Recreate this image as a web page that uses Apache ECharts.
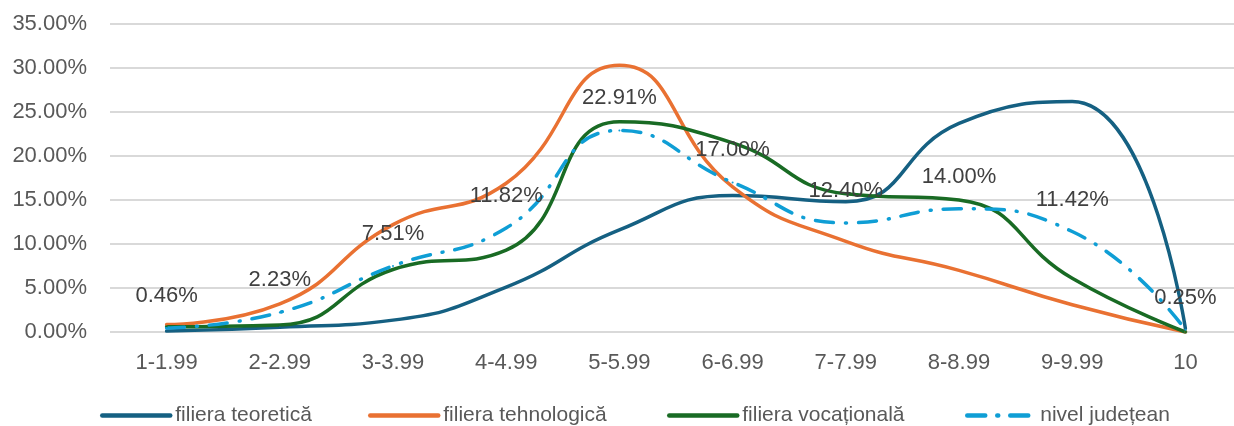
<!DOCTYPE html>
<html>
<head>
<meta charset="utf-8">
<script src="https://cdn.jsdelivr.net/npm/echarts@6/dist/echarts.min.js"></script>
<style>
  html, body { margin: 0; padding: 0; background: #fff; }
  #chart { width: 1234px; height: 426px; }
</style>
</head>
<body>
<div id="chart"></div>
<script>
// categorii de note
var categories = ['1-1.99', '2-2.99', '3-3.99', '4-4.99', '5-5.99', '6-6.99', '7-7.99', '8-8.99', '9-9.99', '10'];

// procente
var teoretica   = [0.1, 0.55, 1.35, 5.1, 11.6, 15.5, 14.8, 23.7, 26.2, 0.4];
var tehnologica = [0.84, 3.2, 12.2, 16.9, 30.3, 16.5, 10.3, 7.0, 3.1, 0];
var vocationala = [0.6, 0.8, 7.1, 9.3, 23.9, 21.5, 15.7, 15.0, 6.1, 0];
var judetean    = [0.46, 2.23, 7.51, 11.82, 22.91, 17.00, 12.40, 14.00, 11.42, 0.25];

var names = ['filiera teoretică', 'filiera tehnologică', 'filiera vocațională', 'nivel județean'];
var colors = ['#156082', '#E97132', '#196B24', '#0F9ED5'];
var legendLeft = [95, 363, 662, 960];

var font = 'Liberation Sans';

var myChart = echarts.init(document.getElementById('chart'));

function lineSeries(i, data, extra) {
  var s = {
    name: names[i],
    type: 'line',
    data: data,
    smooth: 0.5,
    symbol: 'circle',
    symbolSize: 2,
    showSymbol: true,
    lineStyle: { width: 3.5, color: colors[i], cap: 'round' },
    itemStyle: { color: colors[i] }
  };
  return Object.assign(s, extra || {});
}

var option = {
  animation: false,
  color: colors,
  grid: { left: 110, right: -8, top: 24, bottom: 94, outerBoundsMode: 'none' },
  legend: names.map(function (n, i) {
    return {
      data: [n],
      left: legendLeft[i],
      top: 400,
      itemWidth: 68,
      itemHeight: 18,
      itemGap: 0,
      itemStyle: { opacity: 0 },
      lineStyle: { width: 4.5 },
      textStyle: { fontFamily: font, fontSize: 21, color: '#595959' }
    };
  }),
  xAxis: {
    type: 'category',
    data: categories,
    boundaryGap: true,
    axisLine: { show: false },
    axisTick: { show: false },
    axisLabel: { fontFamily: font, fontSize: 22, color: '#595959', margin: 20 }
  },
  yAxis: {
    type: 'value',
    min: 0,
    max: 35,
    interval: 5,
    axisLine: { show: false },
    axisTick: { show: false },
    splitLine: { lineStyle: { color: '#d9d9d9', width: 2 } },
    axisLabel: {
      fontFamily: font, fontSize: 22, color: '#595959', margin: 23,
      formatter: function (v) { return v.toFixed(2) + '%'; }
    }
  },
  series: [
    lineSeries(0, teoretica),
    lineSeries(1, tehnologica),
    lineSeries(2, vocationala),
    lineSeries(3, judetean, {
      lineStyle: { width: 3.5, color: colors[3], type: [18, 12, 1, 12], cap: 'round' },
      label: {
        show: true,
        position: 'top',
        distance: 20,
        fontFamily: font,
        fontSize: 22,
        color: '#404040',
        formatter: function (p) { return p.value.toFixed(2) + '%'; }
      }
    })
  ]
};

myChart.setOption(option);
window.addEventListener('resize', function () { myChart.resize(); });
</script>
</body>
</html>
